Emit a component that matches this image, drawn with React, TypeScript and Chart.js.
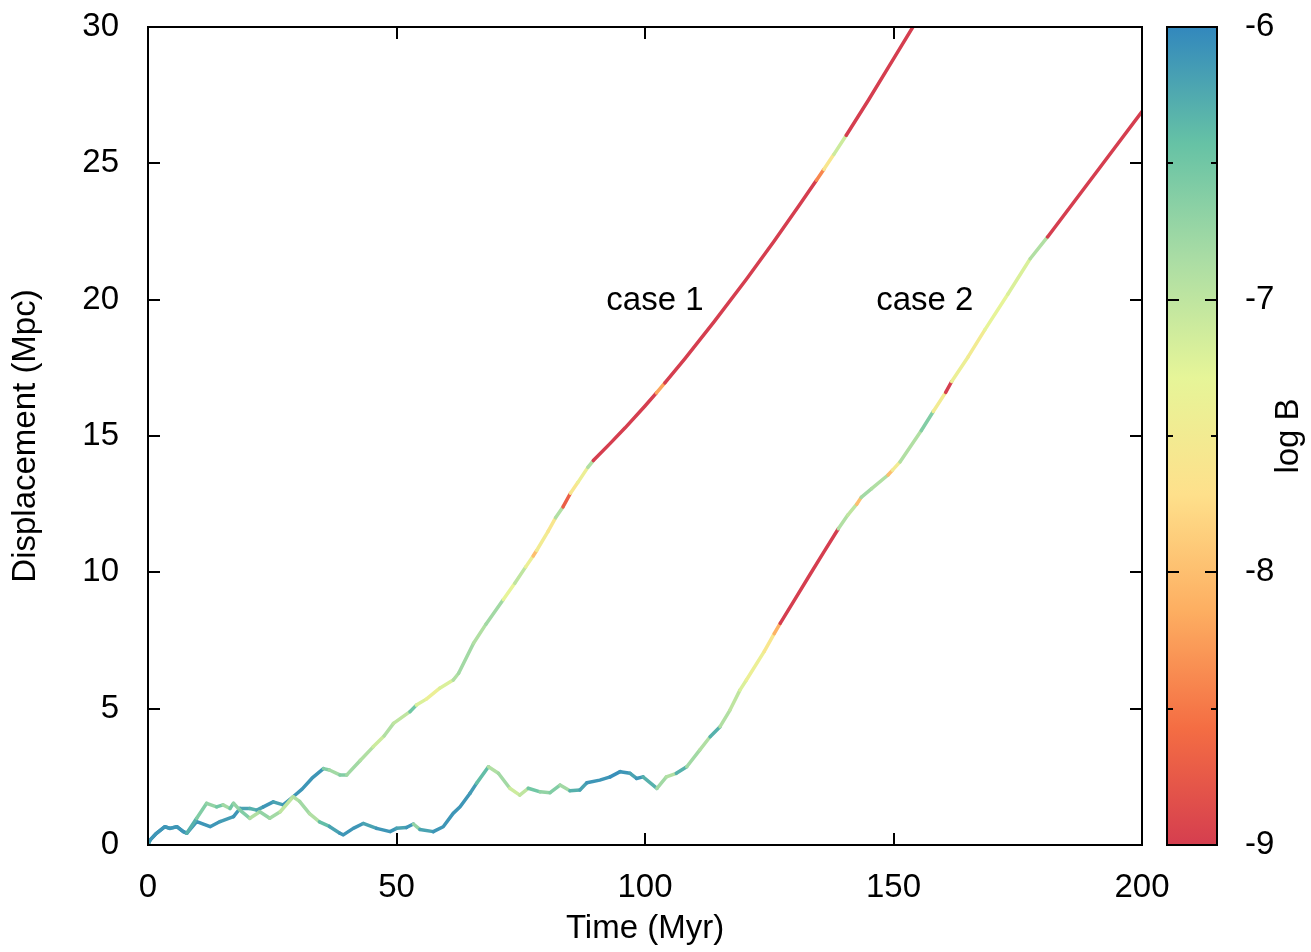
import React, { useEffect, useRef } from "react";
import { Chart, registerables } from "chart.js";

Chart.register(...registerables);

// ---------- data ----------
const case1Time = [0, 0.4, 1.7, 3.4, 4.4, 5.8, 7.1, 7.8, 9.8, 12.5, 14.5, 17.2, 18.5, 20.5, 21.9, 23.2, 25.2, 27.2, 29.2, 31, 33, 35.3, 36.5, 38.6, 40, 42.7, 45.3, 47.5, 49.4, 52.7, 54, 56, 58.7, 61.4, 62.5, 65.5, 68, 71.5, 73.8, 76, 77.5, 78.2, 80.5, 82, 83.5, 85, 86.5, 88.5, 89.6, 93, 96, 100, 102.3, 104, 108, 114, 120.4, 126, 131, 134.5, 136, 138, 140.5, 145, 150, 155];
const case1Disp = [0, 0.18, 0.43, 0.67, 0.61, 0.67, 0.49, 0.43, 0.86, 0.67, 0.86, 1.04, 1.34, 1.34, 1.28, 1.4, 1.58, 1.47, 1.77, 2.05, 2.45, 2.8, 2.75, 2.57, 2.57, 3.1, 3.6, 4.0, 4.46, 4.89, 5.13, 5.35, 5.75, 6.05, 6.3, 7.4, 8.1, 9.0, 9.6, 10.2, 10.6, 10.8, 11.5, 12.0, 12.4, 12.9, 13.3, 13.85, 14.1, 14.73, 15.3, 16.1, 16.58, 16.95, 17.83, 19.21, 20.75, 22.15, 23.45, 24.38, 24.78, 25.33, 26.03, 27.33, 28.83, 30.33];
const case1LogB = [-6.2, -6.1, -6.1, -6.1, -6.2, -6.1, -6.1, -6.1, -6.1, -6.1, -6.15, -6.1, -6.2, -6.3, -6.2, -6.1, -6.2, -6.1, -6.1, -6.1, -6.1, -6.6, -6.8, -6.6, -6.8, -6.9, -7.1, -6.9, -7.0, -6.5, -7.2, -7.4, -7.2, -6.9, -6.8, -6.9, -6.8, -7.3, -7.0, -7.4, -8.0, -7.5, -7.6, -6.9, -8.7, -7.6, -7.4, -6.9, -9, -9, -9, -9, -8.2, -9, -9, -9, -9, -9, -9, -8.4, -7.6, -7.1, -9, -9, -9, -9];

const case2Time = [0, 0.4, 1.7, 3.4, 4.4, 5.8, 7.1, 7.8, 9.8, 11.8, 13.8, 15.1, 16.5, 17.2, 18.5, 20.5, 22.5, 24.5, 26.6, 29.2, 30.5, 32.5, 34.5, 36.5, 38.6, 39.3, 41.3, 43.3, 46, 48.7, 50, 52, 53.4, 54.7, 57.4, 59.4, 61.4, 62.8, 64.8, 66.1, 68.5, 70.5, 72.8, 74.8, 76.5, 78.9, 80.9, 82.9, 84.9, 86.9, 88.3, 90.9, 93, 95, 97, 98.3, 99.6, 102.4, 104.3, 106.3, 108.4, 111, 113.1, 115.1, 117.1, 119.1, 120.4, 124, 126, 127.2, 130, 133.2, 136, 138.9, 140.8, 142.6, 143.5, 145.6, 148.9, 149.8, 151.3, 155.6, 158, 160.5, 161.7, 165, 168.4, 173, 177.5, 181, 186, 191.5, 196, 200];
const case2Disp = [0, 0.18, 0.43, 0.67, 0.61, 0.67, 0.49, 0.43, 0.98, 1.53, 1.4, 1.47, 1.34, 1.53, 1.28, 0.98, 1.22, 0.98, 1.22, 1.77, 1.6, 1.15, 0.85, 0.68, 0.43, 0.37, 0.61, 0.79, 0.61, 0.49, 0.61, 0.64, 0.77, 0.57, 0.49, 0.67, 1.16, 1.4, 1.9, 2.26, 2.87, 2.63, 2.08, 1.83, 2.08, 1.95, 1.92, 2.2, 1.99, 2.02, 2.28, 2.38, 2.5, 2.69, 2.63, 2.44, 2.5, 2.08, 2.5, 2.63, 2.87, 3.48, 3.97, 4.34, 4.95, 5.68, 6.05, 7.1, 7.75, 8.13, 8.96, 9.92, 10.75, 11.6, 12.1, 12.5, 12.75, 13.07, 13.57, 13.75, 14.05, 15.2, 15.9, 16.6, 17.0, 17.9, 18.9, 20.2, 21.5, 22.3, 23.51, 24.84, 25.93, 26.9];
const case2LogB = [-6.2, -6.1, -6.1, -6.1, -6.1, -6.1, -6.1, -6.3, -6.6, -6.7, -6.5, -6.8, -6.5, -6.7, -6.6, -6.9, -6.7, -6.8, -7.0, -6.9, -6.8, -6.9, -6.4, -6.2, -6.1, -6.1, -6.1, -6.2, -6.1, -6.1, -6.2, -6.1, -6.7, -6.2, -6.1, -6.1, -6.1, -6.1, -6.15, -6.4, -6.9, -6.8, -7.1, -7.0, -6.5, -6.7, -6.6, -6.8, -6.3, -6.2, -6.1, -6.1, -6.05, -6.1, -6.2, -6.1, -6.3, -6.8, -6.9, -6.3, -6.8, -6.9, -6.3, -6.9, -7.0, -7.2, -7.4, -7.6, -8.1, -9, -9, -9, -9, -6.9, -7.0, -8.0, -6.8, -6.9, -8.0, -7.5, -6.9, -6.6, -7.5, -9, -7.4, -7.5, -7.3, -7.2, -6.9, -9, -9, -9, -9, -9];

const xTicks = [0, 50, 100, 150, 200];
const yTicks = [0, 5, 10, 15, 20, 25, 30];
const cbMajorTicks = [-9, -8, -7, -6];
const cbMinorTicks = [-8.5, -7.5, -6.5];

const annoText = ["case 1", "case 2"];
const annoTime = [102, 156.3];
const annoDisp = [19.95, 19.95];

const spectral = ["#D53E4F", "#F46D43", "#FDAE61", "#FEE08B", "#E6F598", "#ABDDA4", "#66C2A5", "#3288BD"];
const B_MIN = -9;
const B_MAX = -6;

// ---------- helpers ----------
const FONT = "'Liberation Sans', Arial, Helvetica, sans-serif";
const FS = 33;

function hexToRgb(h: string) {
  const n = parseInt(h.slice(1), 16);
  return [(n >> 16) & 255, (n >> 8) & 255, n & 255];
}
function colorFor(v: number) {
  let f = ((v - B_MIN) / (B_MAX - B_MIN)) * (spectral.length - 1);
  f = Math.max(0, Math.min(spectral.length - 1, f));
  const i = Math.min(spectral.length - 2, Math.floor(f));
  const t = f - i;
  const a = hexToRgb(spectral[i]);
  const b = hexToRgb(spectral[i + 1]);
  const c = a.map((x, k) => Math.round(x + (b[k] - x) * t));
  return `rgb(${c[0]},${c[1]},${c[2]})`;
}

const TICK = 12;
const CB_GAP = 25;
const CB_W = 50;

const overlay = {
  id: "overlay",
  afterDraw(chart: any) {
    const { ctx, chartArea: a, scales } = chart;
    const xs = scales.x;
    const ys = scales.y;
    const cb = scales.cb;
    ctx.save();
    ctx.strokeStyle = "#000";
    ctx.lineWidth = 2;
    ctx.lineCap = "butt";
    // inward ticks on all four sides
    ctx.beginPath();
    for (const v of xTicks) {
      const px = Math.round(xs.getPixelForValue(v));
      ctx.moveTo(px, a.bottom);
      ctx.lineTo(px, a.bottom - TICK);
      ctx.moveTo(px, a.top);
      ctx.lineTo(px, a.top + TICK);
    }
    for (const v of yTicks) {
      const py = Math.round(ys.getPixelForValue(v));
      ctx.moveTo(a.left, py);
      ctx.lineTo(a.left + TICK, py);
      ctx.moveTo(a.right, py);
      ctx.lineTo(a.right - TICK, py);
    }
    ctx.stroke();
    ctx.strokeRect(a.left, a.top, a.right - a.left, a.bottom - a.top);

    // colour bar
    const cl = a.right + CB_GAP;
    const cr = cl + CB_W;
    const ct = cb.getPixelForValue(B_MAX);
    const cbot = cb.getPixelForValue(B_MIN);
    const grad = ctx.createLinearGradient(0, cbot, 0, ct);
    spectral.forEach((c, i) => grad.addColorStop(i / (spectral.length - 1), c));
    ctx.fillStyle = grad;
    ctx.fillRect(cl, ct, CB_W, cbot - ct);
    ctx.beginPath();
    for (const v of cbMajorTicks) {
      const py = Math.round(cb.getPixelForValue(v));
      ctx.moveTo(cl, py);
      ctx.lineTo(cl + TICK, py);
      ctx.moveTo(cr, py);
      ctx.lineTo(cr - TICK, py);
    }
    for (const v of cbMinorTicks) {
      const py = Math.round(cb.getPixelForValue(v));
      ctx.moveTo(cl, py);
      ctx.lineTo(cl + TICK / 2, py);
      ctx.moveTo(cr, py);
      ctx.lineTo(cr - TICK / 2, py);
    }
    ctx.stroke();
    ctx.strokeRect(cl, ct, CB_W, cbot - ct);

    // annotations
    ctx.fillStyle = "#000";
    ctx.font = `${FS}px ${FONT}`;
    ctx.textAlign = "center";
    ctx.textBaseline = "middle";
    annoText.forEach((t, i) => {
      ctx.fillText(t, xs.getPixelForValue(annoTime[i]), ys.getPixelForValue(annoDisp[i]));
    });

    // colour bar title
    ctx.translate(cb.right - 22, (ct + cbot) / 2);
    ctx.rotate(-Math.PI / 2);
    ctx.fillText("log B", 0, 0);
    ctx.restore();
  },
};

function makePoints(t: number[], d: number[]) {
  return t.map((x, i) => ({ x, y: d[i] }));
}

export default function App() {
  const ref = useRef<HTMLCanvasElement>(null);
  useEffect(() => {
    const font = { family: FONT, size: FS };
    const chart = new Chart(ref.current as HTMLCanvasElement, {
      type: "line",
      data: {
        datasets: [
          {
            label: "case 2",
            data: makePoints(case2Time, case2Disp),
            xAxisID: "x",
            yAxisID: "y",
            borderWidth: 3.5,
            pointRadius: 0,
            tension: 0,
            borderCapStyle: "round",
            borderJoinStyle: "round",
            borderColor: colorFor(-9),
            segment: { borderColor: (c: any) => colorFor(case2LogB[c.p0DataIndex]) },
          },
          {
            label: "case 1",
            data: makePoints(case1Time, case1Disp),
            xAxisID: "x",
            yAxisID: "y",
            borderWidth: 3.5,
            pointRadius: 0,
            tension: 0,
            borderCapStyle: "round",
            borderJoinStyle: "round",
            borderColor: colorFor(-9),
            segment: { borderColor: (c: any) => colorFor(case1LogB[c.p0DataIndex]) },
          },
        ],
      } as any,
      options: {
        responsive: false,
        animation: false,
        parsing: false,
        layout: { padding: { top: 27, left: 0, right: 0, bottom: 0 } },
        plugins: { legend: { display: false }, tooltip: { enabled: false } },
        scales: {
          x: {
            type: "linear",
            position: "bottom",
            min: 0,
            max: 200,
            afterBuildTicks: (s: any) => { s.ticks = xTicks.map((v) => ({ value: v })); },
            ticks: { font, color: "#000", padding: 15, maxRotation: 0 },
            grid: { display: false },
            border: { display: false },
            title: { display: true, text: "Time (Myr)", font, color: "#000", padding: { top: 0, bottom: 3 } },
            afterFit: (s: any) => { s.height = 107; s.paddingLeft = 0; s.paddingRight = 0; },
          },
          y: {
            type: "linear",
            position: "left",
            min: 0,
            max: 30,
            afterBuildTicks: (s: any) => { s.ticks = yTicks.map((v) => ({ value: v })); },
            ticks: { font, color: "#000", padding: 21 },
            grid: { display: false },
            border: { display: false },
            title: { display: true, text: "Displacement (Mpc)", font, color: "#000", padding: { top: 6, bottom: 0 } },
            afterFit: (s: any) => { s.width = 148; s.paddingTop = 0; s.paddingBottom = 0; },
          },
          cb: {
            type: "linear",
            axis: "y",
            position: "right",
            min: B_MIN,
            max: B_MAX,
            afterBuildTicks: (s: any) => { s.ticks = cbMajorTicks.map((v) => ({ value: v })); },
            ticks: { font, color: "#000", padding: 95 },
            grid: { display: false },
            border: { display: false },
            afterFit: (s: any) => { s.width = 169; s.paddingTop = 0; s.paddingBottom = 0; },
          },
        },
      } as any,
      plugins: [overlay],
    });
    return () => chart.destroy();
  }, []);
  return (
    <div style={{ position: "absolute", left: 0, top: 0, width: 1311, height: 952, background: "#fff" }}>
      <canvas ref={ref} width={1311} height={952} style={{ display: "block" }} />
    </div>
  );
}
